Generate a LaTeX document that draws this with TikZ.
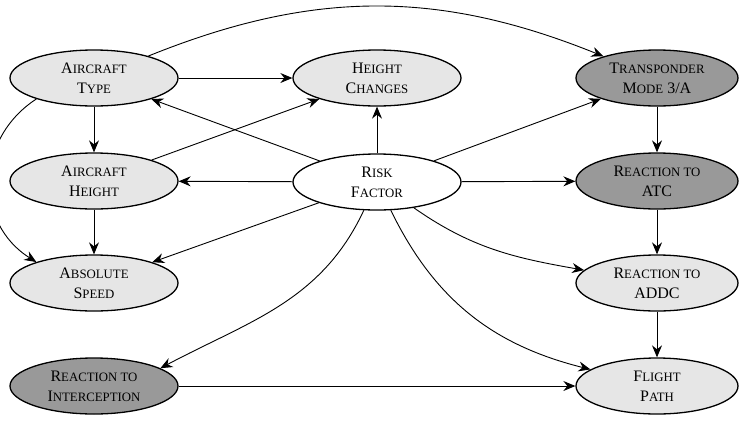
\documentclass[tikz,border=0pt]{standalone}
\usepackage{fontspec}
\setmainfont{Liberation Serif}
\usetikzlibrary{shapes.geometric,arrows.meta}
\definecolor{lightfill}{RGB}{230,230,230}
\definecolor{darkfill}{RGB}{153,153,153}
\newcommand{\sm}[1]{{\fontsize{12.8}{20}\selectfont #1}}
\begin{document}
\begin{tikzpicture}[x=1pt,y=1pt,
  base/.style={ellipse,draw,line width=1.3pt,minimum width=168pt,minimum height=56pt,inner sep=0pt,align=center,font=\fontsize{16}{20}\selectfont},
  lightnode/.style={base,fill=lightfill},
  darknode/.style={base,fill=darkfill},
  whitenode/.style={base,fill=white},
  edge/.style={-{Stealth[length=12pt,width=10pt,inset=4pt]},line width=0.9pt}]
\useasboundingbox (0,0) rectangle (739,-421);
\node[lightnode] (at) at (94,-78) {A\sm{IRCRAFT}\\T\sm{YPE}};
\node[lightnode] (hc) at (377,-78) {H\sm{EIGHT}\\C\sm{HANGES}};
\node[darknode,minimum width=162pt] (tr) at (657,-78) {T\sm{RANSPONDER}\\M\sm{ODE} 3/A};
\node[lightnode] (ah) at (94,-181) {A\sm{IRCRAFT}\\H\sm{EIGHT}};
\node[whitenode] (rf) at (377,-182) {R\sm{ISK}\\F\sm{ACTOR}};
\node[darknode,minimum width=162pt] (atc) at (657,-181) {R\sm{EACTION TO}\\ATC};
\node[lightnode] (as) at (94,-283) {A\sm{BSOLUTE}\\S\sm{PEED}};
\node[lightnode,minimum width=162pt] (addc) at (657,-283) {R\sm{EACTION TO}\\ADDC};
\node[darknode] (ri) at (94,-386) {R\sm{EACTION TO}\\I\sm{NTERCEPTION}};
\node[lightnode,minimum width=162pt] (fp) at (657,-386) {F\sm{LIGHT}\\P\sm{ATH}};
\draw[edge] (at) -- (hc);
\draw[edge] (at) to[out=22,in=158] (tr);
\draw[edge] (at) -- (ah);
\draw[edge] (at.200) to[out=213,in=148,looseness=1.15] (as.160);
\draw[edge] (ah) -- (as);
\draw[edge] (ah) -- (hc);
\draw[edge] (rf) -- (at);
\draw[edge] (rf) -- (hc);
\draw[edge] (rf) -- (ah);
\draw[edge] (rf) -- (as);
\draw[edge] (rf) -- (tr);
\draw[edge] (rf) -- (atc);
\draw[edge] (rf) to[out=-35,in=170] (addc);
\draw[edge] (rf) to[out=-64,in=166] (fp);
\draw[edge] (rf) to[out=-115,in=28] (ri.15);
\draw[edge] (tr) -- (atc);
\draw[edge] (atc) -- (addc);
\draw[edge] (addc) -- (fp);
\draw[edge] (ri) -- (fp);
\end{tikzpicture}
\end{document}
